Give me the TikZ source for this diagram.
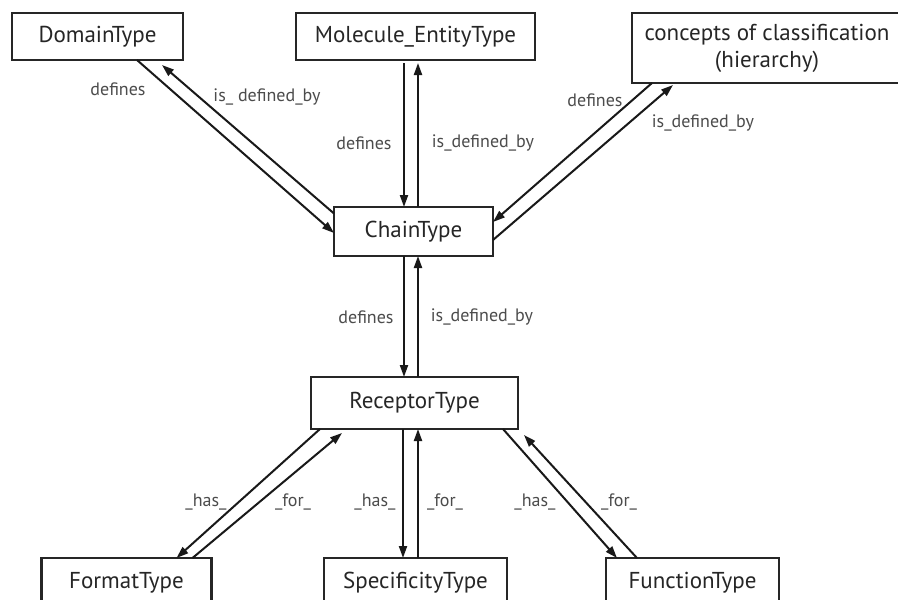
\documentclass[tikz,border=0pt]{standalone}
\usepackage{fontspec}
\setmainfont{PT Sans}
\usetikzlibrary{arrows.meta}
\begin{document}
\begin{tikzpicture}[x=1pt,y=-1pt,
  box/.style={draw=black!85,line width=2.4pt,inner sep=0pt,outer sep=0pt,fill=white,
    font=\fontsize{23}{27}\selectfont,text=black!85,align=center},
  conn/.style={line width=2pt,draw=black!90,-{Triangle[length=12pt,width=8pt]}},
  lbl/.style={font=\fontsize{18}{20}\selectfont,text=black!70,inner sep=0pt}]
\clip (0,0) rectangle (898,600);
\fill[white] (0,0) rectangle (898,600);
% nodes
\node[box,minimum width=171pt,minimum height=47pt] (dom) at (97.5,36.5) {DomainType};
\node[box,minimum width=239pt,minimum height=47pt] (mol) at (415.5,36.5) {Molecule\_EntityType};
\node[box,minimum width=270pt,minimum height=70pt] (con) at (767,48) {concepts of classification\\(hierarchy)};
\node[box,minimum width=159pt,minimum height=49pt] (chain) at (413.5,231.5) {ChainType};
\node[box,minimum width=207pt,minimum height=52pt] (rec) at (414.5,403) {ReceptorType};
\node[box,minimum width=170pt,minimum height=50pt] (fmt) at (126.5,583) {FormatType};
\node[box,minimum width=183pt,minimum height=50pt] (spec) at (415.5,583) {SpecificityType};
\node[box,minimum width=173pt,minimum height=50pt] (fun) at (692.5,583) {FunctionType};
% Domain <-> Chain
\draw[conn] ([xshift=-46pt]dom.south east) -- ([yshift=-1.5pt]chain.west);
\draw[conn] ([yshift=18pt]chain.west) -- ([xshift=-21pt,yshift=-5pt]dom.south east);
% Molecule <-> Chain
\draw[conn] ([xshift=-11.5pt,yshift=-3pt]mol.south) -- ([xshift=-9.5pt]chain.north);
\draw[conn] ([xshift=4.5pt]chain.north) -- ([xshift=2.5pt,yshift=-3pt]mol.south);
% Concepts <-> Chain
\draw[conn] ([xshift=20pt]con.south west) -- ([yshift=9.5pt]chain.east);
\draw[conn] ([yshift=-8.5pt]chain.east) -- ([xshift=41pt,yshift=-2pt]con.south west);
% Chain <-> Receptor
\draw[conn] ([xshift=-9.5pt]chain.south) -- ([xshift=-10.5pt]rec.north);
\draw[conn] ([xshift=3.5pt]rec.north) -- ([xshift=4.5pt]chain.south);
% Receptor <-> Format
\draw[conn] ([xshift=9pt]rec.south west) -- ([xshift=-35pt]fmt.north east);
\draw[conn] ([xshift=-19pt]fmt.north east) -- ([xshift=31pt,yshift=-4pt]rec.south west);
% Receptor <-> Specificity
\draw[conn] ([xshift=-11.5pt]rec.south) -- ([xshift=-12.5pt]spec.north);
\draw[conn] ([xshift=2.5pt]spec.north) -- ([xshift=3.5pt]rec.south);
% Receptor <-> Function
\draw[conn] ([xshift=-15pt]rec.south east) -- ([xshift=11pt]fun.north west);
\draw[conn] ([xshift=31pt]fun.north west) -- ([xshift=6pt,yshift=-6pt]rec.south east);
% labels
\node[lbl] (l1) at (118,89) {defines};
\node[lbl] (l2) at (267,97) {is\_ defined\_by};
\node[lbl] (l3) at (364,143) {defines};
\node[lbl] (l4) at (483,143) {is\_defined\_by};
\node[lbl] (l5) at (595,100) {defines};
\node[lbl] (l6) at (703,123) {is\_defined\_by};
\node[lbl] (l7) at (366,317) {defines};
\node[lbl] (l8) at (482,317) {is\_defined\_by};
\node[lbl] (l9) at (206,502) {\_has\_};
\node[lbl] (l10) at (293,502) {\_for\_};
\node[lbl] (l11) at (375,502) {\_has\_};
\node[lbl] (l12) at (445,502) {\_for\_};
\node[lbl] (l13) at (535,502) {\_has\_};
\node[lbl] (l14) at (619,502) {\_for\_};
\end{tikzpicture}
\end{document}
